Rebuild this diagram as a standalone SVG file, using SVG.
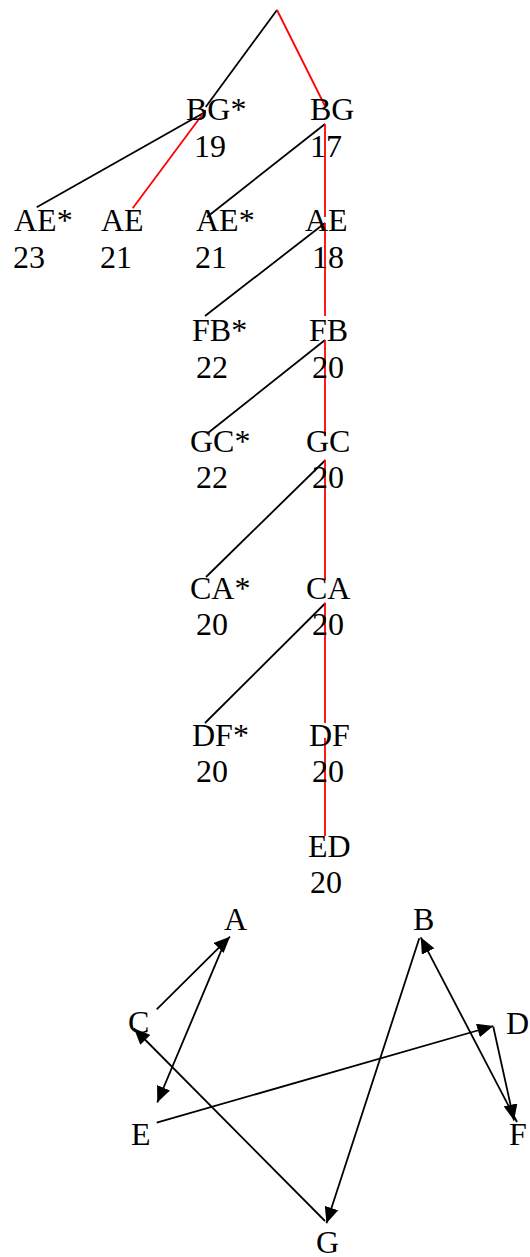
<svg xmlns="http://www.w3.org/2000/svg" width="530" height="1257" viewBox="0 0 530 1257">
<style>
text{font-family:"Liberation Serif","DejaVu Serif",serif;font-size:32px;fill:#000}
.k{stroke:#000;stroke-width:1.8;fill:none}
.r{stroke:#f00;stroke-width:1.8;fill:none}
.a{stroke:#000;stroke-width:1.8;fill:none;marker-end:url(#ah)}
</style>
<defs>
<marker id="ah" markerUnits="userSpaceOnUse" markerWidth="16" markerHeight="14" viewBox="0 0 16 14" refX="16" refY="7" orient="auto">
<path d="M0,0 L16,7 L0,14 z" fill="#000"/>
</marker>
</defs>
<rect width="530" height="1257" fill="#fff"/>
<g id="connectors">
<line class="k" x1="277" y1="10" x2="205.7" y2="107"/>
<line class="r" x1="277" y1="10" x2="325" y2="106"/>
<line class="k" x1="205.7" y1="111.7" x2="36.7" y2="207.3"/>
<line class="r" x1="205.7" y1="110" x2="132.7" y2="208.3"/>
<line class="k" x1="325" y1="124" x2="207" y2="217"/>
<line class="r" x1="325" y1="124" x2="325" y2="217"/>
<line class="k" x1="325" y1="223" x2="205" y2="316"/>
<line class="r" x1="325" y1="223" x2="325" y2="316"/>
<line class="k" x1="325" y1="340" x2="206.7" y2="434"/>
<line class="r" x1="325" y1="340" x2="325" y2="436"/>
<line class="k" x1="325.5" y1="460" x2="206" y2="577"/>
<line class="r" x1="325" y1="460" x2="325" y2="580"/>
<line class="k" x1="325.5" y1="603" x2="205" y2="723"/>
<line class="r" x1="325" y1="603" x2="325" y2="723"/>
<line class="r" x1="325" y1="738" x2="325" y2="836"/>
<line class="a" x1="156.7" y1="1009.3" x2="230" y2="936.7"/>
<line class="a" x1="225" y1="941.7" x2="157.3" y2="1102.5"/>
<line class="a" x1="325" y1="1221" x2="134" y2="1028.5"/>
<line class="a" x1="419.3" y1="938.3" x2="326.5" y2="1223.3"/>
<line class="a" x1="517" y1="1122" x2="420.7" y2="937.3"/>
<line class="a" x1="156.7" y1="1122.7" x2="493.3" y2="1026"/>
<line class="a" x1="493.3" y1="1026.7" x2="514" y2="1120.5"/>
</g>
<g id="n-bgs"><text x="186" y="120">BG*</text><text x="194" y="157">19</text></g>
<g id="n-bg"><text x="310" y="120">BG</text><text x="310" y="157">17</text></g>
<g id="n-aes1"><text x="14" y="231">AE*</text><text x="13" y="268">23</text></g>
<g id="n-ae1"><text x="101" y="231">AE</text><text x="100" y="268">21</text></g>
<g id="n-aes2"><text x="196" y="231">AE*</text><text x="195" y="268">21</text></g>
<g id="n-ae2"><text x="305" y="231">AE</text><text x="312" y="268">18</text></g>
<g id="n-fbs"><text x="192" y="341">FB*</text><text x="196" y="378">22</text></g>
<g id="n-fb"><text x="309" y="341">FB</text><text x="312" y="378">20</text></g>
<g id="n-gcs"><text x="190" y="452">GC*</text><text x="196" y="488">22</text></g>
<g id="n-gc"><text x="306" y="452">GC</text><text x="312" y="488">20</text></g>
<g id="n-cas"><text x="190" y="599">CA*</text><text x="196" y="635">20</text></g>
<g id="n-ca"><text x="306" y="599">CA</text><text x="312" y="635">20</text></g>
<g id="n-dfs"><text x="192" y="746">DF*</text><text x="196" y="782">20</text></g>
<g id="n-df"><text x="309" y="746">DF</text><text x="312" y="782">20</text></g>
<g id="n-ed"><text x="308" y="857">ED</text><text x="310" y="893">20</text></g>
<g id="g-A"><text x="224" y="930">A</text></g>
<g id="g-B"><text x="413" y="930">B</text></g>
<g id="g-C"><text x="128" y="1033">C</text></g>
<g id="g-D"><text x="506" y="1034">D</text></g>
<g id="g-E"><text x="131" y="1145">E</text></g>
<g id="g-F"><text x="509" y="1145">F</text></g>
<g id="g-G"><text x="316" y="1253">G</text></g>
</svg>
